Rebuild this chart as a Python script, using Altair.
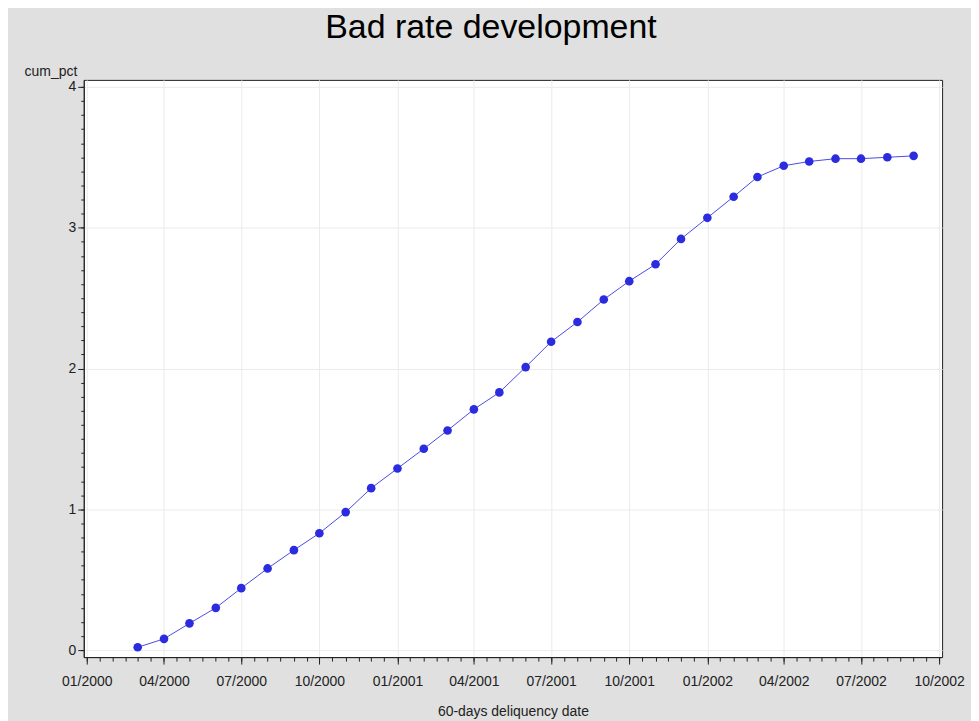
import altair as alt
import pandas as pd

# ---- data ----
months = [
    "2000-03-01", "2000-04-01", "2000-05-01", "2000-06-01", "2000-07-01",
    "2000-08-01", "2000-09-01", "2000-10-01", "2000-11-01", "2000-12-01",
    "2001-01-01", "2001-02-01", "2001-03-01", "2001-04-01", "2001-05-01",
    "2001-06-01", "2001-07-01", "2001-08-01", "2001-09-01", "2001-10-01",
    "2001-11-01", "2001-12-01", "2002-01-01", "2002-02-01", "2002-03-01",
    "2002-04-01", "2002-05-01", "2002-06-01", "2002-07-01", "2002-08-01",
    "2002-09-01",
]
cum_pct = [
    0.02, 0.08, 0.19, 0.30, 0.44,
    0.58, 0.71, 0.83, 0.98, 1.15,
    1.29, 1.43, 1.56, 1.71, 1.83,
    2.01, 2.19, 2.33, 2.49, 2.62,
    2.74, 2.92, 3.07, 3.22, 3.36,
    3.44, 3.47, 3.49, 3.49, 3.50,
    3.51,
]
y_major = [0, 1, 2, 3, 4]
title_text = "Bad rate development"
x_title = "60-days deliquency date"
y_title = "cum_pct"

df = pd.DataFrame({"date": months, "cum_pct": cum_pct})

FONT = "Liberation Sans"

def dt(y, m, d=1):
    return alt.DateTime(year=y, month=m, date=d, utc=True)

x_major = [dt(2000 + (i // 4), (i % 4) * 3 + 1) for i in range(12)]
x_minor = []
for yy in (2000, 2001, 2002):
    for mm in range(1, 13):
        if yy == 2002 and mm > 10:
            break
        x_minor.append(dt(yy, mm, 1))
        if not (yy == 2002 and mm == 10):
            x_minor.append(dt(yy, mm, 16))
y_minor = [i / 10 for i in range(41)]

xscale = alt.Scale(type="utc", domain=[dt(2000, 1), dt(2002, 10)], nice=False, padding=3)
yscale = alt.Scale(domain=[0, 4], nice=False, zero=False, padding=7)

axis_common = dict(
    labelFont=FONT, labelFontSize=14, labelColor="#222",
    titleFont=FONT, titleFontSize=14, titleColor="#222", titleFontWeight="normal",
    domainColor="#222", tickColor="#222", gridColor="#ebebeb", gridWidth=1,
)

x_axis_major = alt.Axis(
    orient="bottom", values=x_major, labelExpr="utcFormat(datum.value, '%m/%Y')",
    tickSize=7, labelPadding=10, title=x_title, titlePadding=17, grid=True,
    labelFlush=False, labelOverlap=False, **axis_common,
)
y_axis_major = alt.Axis(
    orient="left", values=y_major, tickSize=6, labelPadding=2, grid=True,
    title=y_title, titleAngle=0, titleAlign="right", titleBaseline="alphabetic",
    titleX=-7, titleY=-4, labelFlush=False, labelOverlap=False, **axis_common,
)
x_axis_minor = alt.Axis(
    orient="bottom", values=x_minor, tickSize=4, labels=False, domain=False,
    grid=False, title=None, tickColor="#222",
)
y_axis_minor = alt.Axis(
    orient="left", values=y_minor, tickSize=3, labels=False, domain=False,
    grid=False, title=None, tickColor="#222",
)

base = alt.Chart(df)

line = base.mark_line(color="#4a4ae6", strokeWidth=1).encode(
    x=alt.X("date:T", scale=xscale, axis=x_axis_major),
    y=alt.Y("cum_pct:Q", scale=yscale, axis=y_axis_major),
)
points = base.mark_point(filled=True, shape="circle", size=75, color="#2b2be0", opacity=1).encode(
    x=alt.X("date:T", scale=xscale, axis=x_axis_minor),
    y=alt.Y("cum_pct:Q", scale=yscale, axis=y_axis_minor),
)

chart = (
    alt.layer(line, points)
    .resolve_axis(x="independent", y="independent")
    .properties(
        width=861, height=579,
        autosize=alt.AutoSizeParams(type="none"),
        padding={"left": 76, "top": 71, "right": 29, "bottom": 63},
        background="#e0e0e0",
        title=alt.TitleParams(
            text=title_text, font=FONT, fontSize=34, fontWeight="normal",
            color="#000", anchor="middle", frame="group", dx=-22, dy=17,
            baseline="alphabetic", offset=10,
        ),
    )
    .configure_view(stroke="#222", strokeWidth=1, fill="white")
)

chart.save("out.html", embed_options={"renderer": "svg", "actions": False})
